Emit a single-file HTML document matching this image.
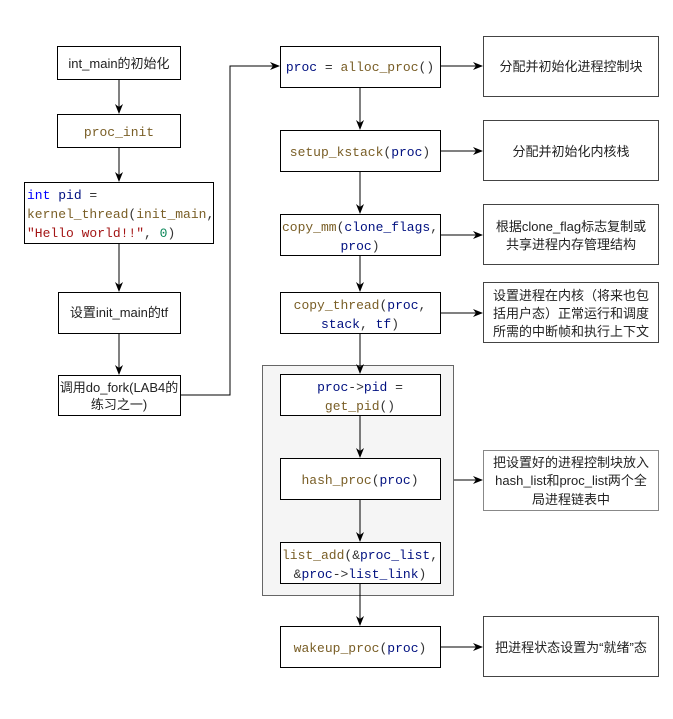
<!DOCTYPE html>
<html><head><meta charset="utf-8"><style>
body{margin:0;background:#fff}
.m{font-family:"Liberation Mono","DejaVu Sans Mono",monospace;font-size:13px}
.s{font-family:"Liberation Sans","Noto Sans CJK SC",sans-serif;font-size:13px;fill:#222}
.k{fill:#0000ff}.v{fill:#001080}.f{fill:#795e26}.r{fill:#a31515}.n{fill:#098658}.p{fill:#333}
</style></head><body>
<svg width="673" height="714" xmlns="http://www.w3.org/2000/svg">
<defs><marker id="a" markerWidth="10" markerHeight="10" refX="9" refY="5" orient="auto" markerUnits="userSpaceOnUse"><path d="M0,1 L10,5 L0,9 L3,5 Z" fill="#000"/></marker></defs>
<g fill="#fff" stroke="#000" stroke-width="1">
<rect x="262.5" y="365.5" width="191" height="230" fill="#f5f5f5" stroke="#666"/>
<rect x="57.5" y="46.5" width="123" height="33"/>
<rect x="57.5" y="114.5" width="123" height="33"/>
<rect x="24.5" y="182.5" width="189" height="61"/>
<rect x="58.5" y="292.5" width="122" height="41"/>
<rect x="58.5" y="375.5" width="122" height="40"/>
<rect x="280.5" y="46.5" width="160" height="41"/>
<rect x="280.5" y="130.5" width="160" height="41"/>
<rect x="280.5" y="214.5" width="160" height="41"/>
<rect x="280.5" y="292.5" width="160" height="41"/>
<rect x="280.5" y="374.5" width="160" height="41"/>
<rect x="280.5" y="458.5" width="160" height="41"/>
<rect x="280.5" y="542.5" width="160" height="41"/>
<rect x="280.5" y="626.5" width="160" height="41"/>
</g>
<g fill="#fff" stroke="#444" stroke-width="1">
<rect x="483.5" y="36.5" width="175" height="60"/>
<rect x="483.5" y="120.5" width="175" height="60"/>
<rect x="483.5" y="204.5" width="175" height="60"/>
<rect x="483.5" y="282.5" width="175" height="60"/>
<rect x="483.5" y="450.5" width="175" height="60" stroke="#888"/>
<rect x="483.5" y="616.5" width="175" height="60"/>
</g>
<g stroke="#000" stroke-width="1" fill="none" marker-end="url(#a)">
<path d="M119,80 V113"/><path d="M119,148 V181"/><path d="M119,244 V291"/><path d="M119,334 V374"/>
<path d="M181,395 H230 V66 H279"/>
<path d="M360,88 V129"/><path d="M360,172 V213"/><path d="M360,256 V291"/><path d="M360,334 V373"/>
<path d="M360,416 V457"/><path d="M360,500 V541"/><path d="M360,584 V625"/>
<path d="M441,66 H482"/><path d="M441,151 H482"/><path d="M441,235 H482"/><path d="M441,313 H482"/>
<path d="M454,480 H482"/><path d="M441,647 H482"/>
</g>
<g text-anchor="middle">
<text class="s" x="119" y="68">int_main的初始化</text>
<text class="m f" x="119" y="136">proc_init</text>
<text class="s" x="119" y="317" font-size="12">设置init_main的tf</text>
<text class="s" x="119" y="392" font-size="12">调用do_fork(LAB4的</text>
<text class="s" x="119" y="409" font-size="12">练习之一)</text>
<text class="m" x="360" y="71"><tspan class="v">proc</tspan><tspan class="p"> = </tspan><tspan class="f">alloc_proc</tspan><tspan class="p">()</tspan></text>
<text class="m" x="360" y="156"><tspan class="f">setup_kstack</tspan><tspan class="p">(</tspan><tspan class="v">proc</tspan><tspan class="p">)</tspan></text>
<text class="m" x="360" y="231"><tspan class="f">copy_mm</tspan><tspan class="p">(</tspan><tspan class="v">clone_flags</tspan><tspan class="p">,</tspan></text>
<text class="m" x="360" y="250"><tspan class="v">proc</tspan><tspan class="p">)</tspan></text>
<text class="m" x="360" y="309"><tspan class="f">copy_thread</tspan><tspan class="p">(</tspan><tspan class="v">proc</tspan><tspan class="p">,</tspan></text>
<text class="m" x="360" y="328"><tspan class="v">stack</tspan><tspan class="p">, </tspan><tspan class="v">tf</tspan><tspan class="p">)</tspan></text>
<text class="m" x="360" y="391"><tspan class="v">proc</tspan><tspan class="p">-&gt;</tspan><tspan class="v">pid</tspan><tspan class="p"> =</tspan></text>
<text class="m" x="360" y="410"><tspan class="f">get_pid</tspan><tspan class="p">()</tspan></text>
<text class="m" x="360" y="484"><tspan class="f">hash_proc</tspan><tspan class="p">(</tspan><tspan class="v">proc</tspan><tspan class="p">)</tspan></text>
<text class="m" x="360" y="559"><tspan class="f">list_add</tspan><tspan class="p">(&amp;</tspan><tspan class="v">proc_list</tspan><tspan class="p">,</tspan></text>
<text class="m" x="360" y="578"><tspan class="p">&amp;</tspan><tspan class="v">proc</tspan><tspan class="p">-&gt;</tspan><tspan class="v">list_link</tspan><tspan class="p">)</tspan></text>
<text class="m" x="360" y="652"><tspan class="f">wakeup_proc</tspan><tspan class="p">(</tspan><tspan class="v">proc</tspan><tspan class="p">)</tspan></text>
<text class="s" x="571" y="71">分配并初始化进程控制块</text>
<text class="s" x="571" y="156">分配并初始化内核栈</text>
<text class="s" x="571" y="231">根据clone_flag标志复制或</text>
<text class="s" x="571" y="249">共享进程内存管理结构</text>
<text class="s" x="571" y="300">设置进程在内核（将来也包</text>
<text class="s" x="571" y="318">括用户态）正常运行和调度</text>
<text class="s" x="571" y="336">所需的中断帧和执行上下文</text>
<text class="s" x="571" y="467">把设置好的进程控制块放入</text>
<text class="s" x="571" y="485">hash_list和proc_list两个全</text>
<text class="s" x="571" y="504">局进程链表中</text>
<text class="s" x="571" y="652">把进程状态设置为“就绪”态</text>
</g>
<text class="m" x="27" y="199"><tspan class="k">int</tspan> <tspan class="v">pid</tspan><tspan class="p"> =</tspan></text>
<text class="m" x="27" y="218"><tspan class="f">kernel_thread</tspan><tspan class="p">(</tspan><tspan class="f">init_main</tspan><tspan class="p">,</tspan></text>
<text class="m" x="27" y="237"><tspan class="r">"Hello world!!"</tspan><tspan class="p">, </tspan><tspan class="n">0</tspan><tspan class="p">)</tspan></text>
</svg>
</body></html>
